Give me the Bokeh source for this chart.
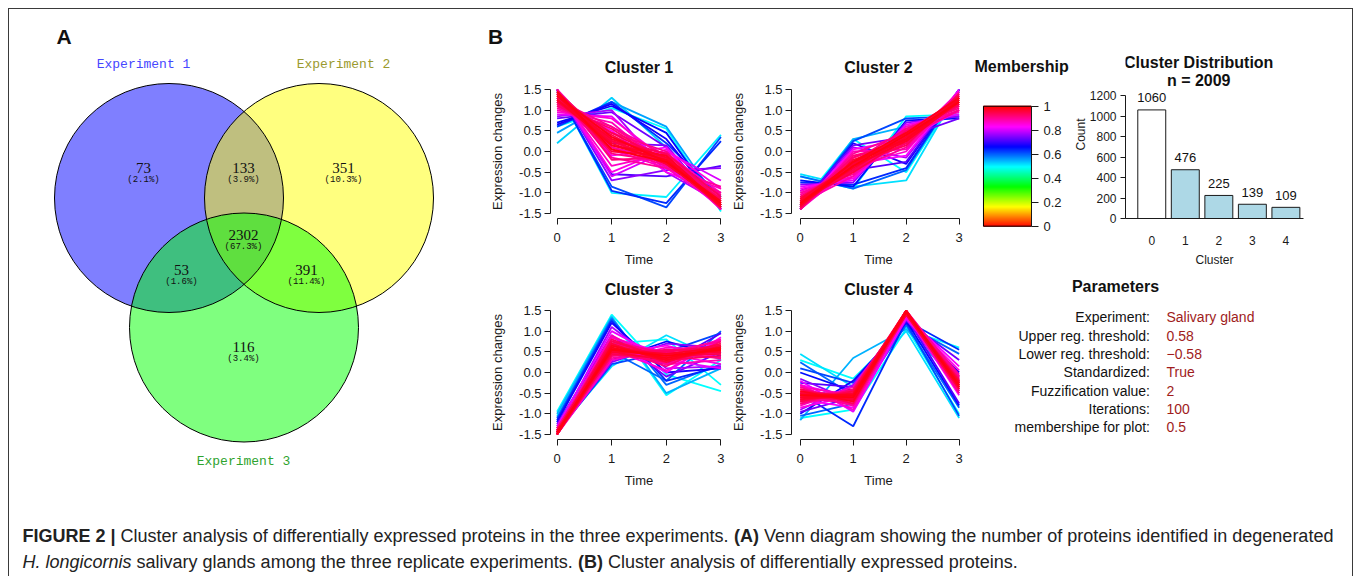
import colorsys
from bokeh.plotting import figure
from bokeh.layouts import row, column
from bokeh.models import Range1d, FixedTicker, Spacer, PrintfTickFormatter
from bokeh.core.properties import value
from bokeh.embed import file_html
from bokeh.resources import INLINE

# ---------------- data ----------------
venn_labels = ["Experiment 1", "Experiment 2", "Experiment 3"]
venn_counts = [73, 133, 351, 2302, 53, 391, 116]
venn_percents = ["(2.1%)", "(3.9%)", "(10.3%)", "(67.3%)", "(1.6%)", "(11.4%)", "(3.4%)"]

time_points = [0, 1, 2, 3]
expr_ticks = [-1.5, -1.0, -0.5, 0.0, 0.5, 1.0, 1.5]
cluster_titles = ["Cluster 1", "Cluster 2", "Cluster 3", "Cluster 4"]

c1_profiles = [
    [1.45, 0.05, -0.25, -1.25], [1.35, 0.15, -0.2, -1.3], [1.25, 0.3, -0.15, -1.35], [1.4, 0.0, -0.1, -1.3],
    [1.2, 0.4, -0.3, -1.25], [1.3, 0.25, -0.05, -1.1], [1.1, 0.55, -0.3, -1.2], [1.5, -0.2, -0.15, -1.15],
    [1.15, 0.45, 0.0, -1.35], [1.3, 0.1, -0.35, -1.0], [1.05, 0.6, -0.1, -1.4], [1.4, -0.15, -0.4, -0.85],
    [1.35, 0.35, -0.25, -1.2], [1.25, 0.15, -0.1, -1.3], [1.4, 0.2, -0.3, -1.3], [1.2, 0.25, -0.2, -1.25],
    [1.3, 0.45, -0.2, -1.35], [1.45, 0.25, -0.3, -1.15], [1.15, 0.3, -0.05, -1.2], [1.35, -0.05, -0.25, -1.05],
    [1.25, 0.6, -0.25, -1.3], [1.1, 0.35, -0.15, -1.15], [1.5, 0.1, -0.2, -1.35], [1.2, 0.05, -0.4, -0.9],
    [1.0, 0.7, -0.4, -1.3], [1.45, -0.35, -0.05, -1.0], [0.95, 0.8, -0.2, -1.4], [1.5, -0.5, 0.05, -0.9],
    [1.2, 0.5, -0.5, -1.0], [1.4, -0.1, 0.1, -1.4], [0.9, 0.85, -0.35, -1.35], [1.5, -0.6, 0.0, -0.7],
    [0.85, 1.0, -0.5, -1.25], [1.5, -0.7, -0.45, -0.4], [1.3, 0.2, 0.15, -1.4], [0.8, 0.95, 0.1, -1.4],
    [1.5, -0.55, -0.6, -0.35], [0.65, 1.15, 0.3, -1.35], [0.7, 1.1, 0.45, -1.4], [1.5, -0.95, -1.25, 0.25],
    [0.6, 1.2, 0.2, -1.1], [1.45, -0.85, -1.35, 0.35], [0.45, 1.2, 0.6, -1.3], [0.2, 1.3, 0.1, -1.3],
    [1.5, -1.0, -1.1, 0.4], [0.6, 1.05, 0.55, -1.45],
]
c1_membership = [0.99, 0.98, 0.97, 0.96, 0.95, 0.94, 0.93, 0.92, 0.91, 0.9, 0.9, 0.9,
                 0.985, 0.975, 0.965, 0.955, 0.945, 0.935, 0.925, 0.915, 0.905, 0.895, 0.885, 0.875,
                 0.88, 0.87, 0.86, 0.85, 0.84, 0.83, 0.82, 0.81, 0.78, 0.76, 0.75, 0.74,
                 0.72, 0.68, 0.66, 0.64, 0.63, 0.62, 0.56, 0.53, 0.51, 0.5]

c2_profiles = [
    [-1.25, -0.35, 0.4, 1.2], [-1.3, -0.25, 0.3, 1.25], [-1.2, -0.4, 0.35, 1.25], [-1.35, -0.2, 0.25, 1.3],
    [-1.15, -0.45, 0.45, 1.15], [-1.3, -0.3, 0.15, 1.4], [-1.1, -0.5, 0.5, 1.1], [-1.4, -0.1, 0.2, 1.3],
    [-1.2, -0.15, 0.35, 1.0], [-1.0, -0.55, 0.55, 1.0], [-1.25, -0.45, 0.1, 1.4], [-1.35, -0.05, 0.45, 1.1],
    [-1.25, -0.25, 0.45, 1.3], [-1.3, -0.35, 0.25, 1.2], [-1.15, -0.3, 0.4, 1.2], [-1.2, -0.5, 0.3, 1.35],
    [-1.35, -0.3, 0.4, 1.15], [-1.1, -0.35, 0.2, 1.3], [-1.3, -0.15, 0.3, 1.2], [-1.2, -0.25, 0.55, 1.05],
    [-1.4, -0.25, 0.35, 1.35], [-1.05, -0.4, 0.3, 1.15], [-1.25, -0.6, 0.5, 1.25], [-1.35, -0.45, 0.2, 1.45],
    [-1.4, 0.0, 0.05, 1.35], [-0.95, -0.6, 0.6, 0.95], [-1.4, -0.35, 0.0, 1.45], [-0.9, -0.65, 0.45, 1.1],
    [-1.35, 0.05, 0.3, 1.0], [-1.1, -0.3, -0.1, 1.5], [-0.85, -0.7, 0.65, 0.9], [-1.4, 0.1, -0.15, 1.45],
    [-0.8, -0.75, 0.7, 0.85], [-1.3, 0.15, 0.35, 0.8], [-0.95, -0.45, -0.25, 1.5], [-1.4, 0.2, -0.3, 1.5],
    [-0.7, -0.85, 0.75, 0.8], [-0.75, -0.8, -0.4, 1.5], [-1.35, 0.25, 0.8, 0.85], [-0.6, -0.9, -0.45, 1.5],
    [-1.4, 0.3, 0.6, 0.85], [-0.55, -0.85, -0.7, 1.5], [-0.6, -0.9, 0.85, 0.9], [-1.3, 0.3, -0.5, 1.45],
]
c2_membership = [0.99, 0.98, 0.97, 0.96, 0.95, 0.94, 0.93, 0.92, 0.91, 0.9, 0.9, 0.9,
                 0.985, 0.975, 0.965, 0.955, 0.945, 0.935, 0.925, 0.915, 0.905, 0.895, 0.885, 0.875,
                 0.88, 0.87, 0.86, 0.85, 0.84, 0.83, 0.82, 0.78, 0.76, 0.74, 0.72, 0.68,
                 0.66, 0.64, 0.62, 0.6, 0.55, 0.52, 0.5, 0.5]

c3_profiles = [
    [-1.45, 0.55, 0.4, 0.55], [-1.5, 0.65, 0.3, 0.6], [-1.45, 0.5, 0.45, 0.5], [-1.4, 0.7, 0.25, 0.65],
    [-1.5, 0.45, 0.35, 0.7], [-1.45, 0.8, 0.3, 0.4], [-1.4, 0.4, 0.55, 0.5], [-1.5, 0.6, 0.15, 0.75],
    [-1.35, 0.75, 0.45, 0.35], [-1.45, 0.35, 0.5, 0.75], [-1.5, 0.7, 0.4, 0.45], [-1.4, 0.6, 0.2, 0.6],
    [-1.45, 0.6, 0.35, 0.6], [-1.5, 0.55, 0.45, 0.6], [-1.4, 0.5, 0.3, 0.55], [-1.45, 0.65, 0.4, 0.45],
    [-1.5, 0.75, 0.35, 0.55], [-1.4, 0.55, 0.5, 0.65], [-1.45, 0.45, 0.25, 0.65], [-1.5, 0.5, 0.5, 0.65],
    [-1.35, 0.65, 0.35, 0.5], [-1.45, 0.7, 0.5, 0.35], [-1.5, 0.4, 0.4, 0.8], [-1.4, 0.85, 0.35, 0.5],
    [-1.4, 0.9, 0.2, 0.3], [-1.5, 0.3, 0.6, 0.55], [-1.35, 0.55, 0.05, 0.8], [-1.45, 0.85, 0.45, 0.2],
    [-1.4, 0.45, 0.65, 0.35], [-1.5, 0.7, 0.0, 0.85], [-1.3, 1.0, 0.3, 0.1], [-1.35, 1.1, 0.1, 0.15],
    [-1.45, 0.25, 0.7, 0.6], [-1.25, 0.9, -0.1, 0.5], [-1.5, 0.5, 0.2, 0.95], [-1.2, 1.2, 0.0, 0.1],
    [-1.4, 0.3, 0.75, 0.4], [-1.15, 1.25, -0.2, 0.15], [-1.45, 0.2, 0.5, 0.95], [-1.1, 1.3, -0.3, 0.2],
    [-1.3, 0.5, -0.2, 1.0], [-1.0, 1.35, -0.5, 0.1], [-1.4, 0.15, 0.9, 0.3], [-0.95, 1.4, -0.05, -0.45],
    [-1.05, 1.3, -0.55, 0.3], [-1.2, 0.7, 0.8, -0.3],
]
c3_membership = [0.99, 0.98, 0.97, 0.96, 0.95, 0.94, 0.93, 0.92, 0.91, 0.9, 0.9, 0.9,
                 0.985, 0.975, 0.965, 0.955, 0.945, 0.935, 0.925, 0.915, 0.905, 0.895, 0.885, 0.875,
                 0.88, 0.87, 0.86, 0.85, 0.84, 0.83, 0.82, 0.78, 0.76, 0.74, 0.72, 0.68,
                 0.66, 0.64, 0.62, 0.6, 0.6, 0.55, 0.52, 0.5, 0.5, 0.5]

c4_profiles = [
    [-0.55, -0.6, 1.45, -0.3], [-0.45, -0.7, 1.5, -0.35], [-0.65, -0.5, 1.45, -0.25], [-0.5, -0.55, 1.4, -0.4],
    [-0.7, -0.45, 1.5, -0.35], [-0.4, -0.75, 1.45, -0.3], [-0.6, -0.65, 1.4, -0.15], [-0.75, -0.4, 1.45, -0.3],
    [-0.5, -0.5, 1.5, -0.5], [-0.35, -0.8, 1.4, -0.25], [-0.6, -0.75, 1.5, -0.1], [-0.7, -0.6, 1.45, -0.05],
    [-0.55, -0.55, 1.5, -0.35], [-0.6, -0.6, 1.45, -0.25], [-0.5, -0.65, 1.45, -0.3], [-0.65, -0.55, 1.4, -0.2],
    [-0.45, -0.6, 1.45, -0.4], [-0.55, -0.7, 1.4, -0.2], [-0.7, -0.5, 1.45, -0.2], [-0.4, -0.65, 1.5, -0.45],
    [-0.6, -0.45, 1.45, -0.4], [-0.5, -0.8, 1.4, -0.1], [-0.75, -0.55, 1.5, -0.2], [-0.35, -0.55, 1.4, -0.5],
    [-0.8, -0.35, 1.4, -0.25], [-0.3, -0.9, 1.45, -0.25], [-0.55, -0.45, 1.35, -0.35], [-0.85, -0.55, 1.35, 0.05],
    [-0.3, -0.6, 1.4, -0.55], [-0.65, -0.85, 1.35, 0.15], [-0.2, -0.95, 1.3, -0.15], [-0.9, -0.3, 1.3, -0.1],
    [-0.15, -0.7, 1.3, -0.45], [-0.95, -0.6, 1.25, 0.3], [-0.25, -0.35, 1.35, -0.75], [-1.0, -0.2, 1.2, 0.0],
    [0.0, -0.45, 1.25, -0.8], [-0.5, -1.3, 1.25, 0.55], [0.1, -0.25, 1.2, -1.05], [-1.05, -0.75, 1.15, 0.45],
    [0.25, -0.55, 1.15, -0.85], [-1.15, 0.35, 1.05, -0.25], [0.45, -0.35, 1.0, -1.1], [0.3, -0.15, 1.1, -1.0],
    [-1.1, -0.9, 1.05, 0.6],
]
c4_membership = [0.99, 0.98, 0.97, 0.96, 0.95, 0.94, 0.93, 0.92, 0.91, 0.9, 0.9, 0.9,
                 0.985, 0.975, 0.965, 0.955, 0.945, 0.935, 0.925, 0.915, 0.905, 0.895, 0.885, 0.875,
                 0.88, 0.87, 0.86, 0.85, 0.84, 0.83, 0.82, 0.78, 0.76, 0.74, 0.72, 0.68,
                 0.66, 0.64, 0.62, 0.6, 0.6, 0.55, 0.52, 0.5, 0.5]

membership_ticks = [0, 0.2, 0.4, 0.6, 0.8, 1]
dist_labels = ["0", "1", "2", "3", "4"]
dist_counts = [1060, 476, 225, 139, 109]
count_ticks = [0, 200, 400, 600, 800, 1000, 1200]

param_names = ["Experiment:", "Upper reg. threshold:", "Lower reg. threshold:", "Standardized:",
               "Fuzzification value:", "Iterations:", "membershipe for plot:"]
param_values = ["Salivary gland", "0.58", "\u22120.58", "True", "2", "100", "0.5"]

caption_line1 = [("FIGURE 2 |", "bold"),
                 ("Cluster analysis of differentially expressed proteins in the three experiments.", "normal"),
                 ("(A)", "bold"),
                 ("Venn diagram showing the number of proteins identified in degenerated", "normal")]
caption_line2 = [("H. longicornis", "italic"),
                 ("salivary glands among the three replicate experiments.", "normal"),
                 ("(B)", "bold"),
                 ("Cluster analysis of differentially expressed proteins.", "normal")]

# ---------------- styling ----------------
FONT = "Liberation Sans"
INK = "#1a1a1a"


def member_color(m):
    r, g, b = colorsys.hsv_to_rgb(m % 1.0, 1.0, 1.0)
    return "#%02x%02x%02x" % (int(round(r * 255)), int(round(g * 255)), int(round(b * 255)))


def canvas(w, h, xr, yr):
    p = figure(width=w, height=h, x_range=Range1d(*xr), y_range=Range1d(*yr), min_border=0,
               toolbar_location=None, output_backend="svg", x_axis_location=None, y_axis_location=None)
    p.grid.visible = False
    p.outline_line_color = None
    p.frame_align = False
    return p


def style_axis(ax, size="13px"):
    ax.axis_line_color = INK
    ax.major_tick_line_color = INK
    ax.minor_tick_line_color = None
    ax.major_tick_in = 0
    ax.major_label_text_font = FONT
    ax.major_label_text_font_size = size
    ax.major_label_text_color = INK
    ax.axis_label_text_font = FONT
    ax.axis_label_text_font_size = size
    ax.axis_label_text_font_style = "normal"
    ax.axis_label_text_color = INK


# ---------------- panel A: Venn ----------------
pv = canvas(471, 488, (9, 480), (497, 9))
venn_cx = [168.5, 318.5, 243.5]
venn_cy = [197.5, 197.5, 327.0]
venn_r = 114.5
venn_fill = ["#0000FF", "#FFFF00", "#00FF00"]
for cx, cy, fc in zip(venn_cx, venn_cy, venn_fill):
    pv.circle(x=[cx], y=[cy], radius=venn_r, fill_color=fc, fill_alpha=0.5, line_color=None)
pv.circle(x=venn_cx, y=venn_cy, radius=venn_r, fill_color=None, line_color="black", line_width=1)

region_x = [143, 243, 343, 243, 181, 306, 243]
region_y = [167, 167, 167, 234, 269, 269, 346]
pv.text(x=region_x, y=region_y, text=[str(c) for c in venn_counts], text_font=value("Liberation Serif"),
        text_font_size="15px", text_align="center", text_baseline="middle", text_color="#111111")
pv.text(x=region_x, y=[y + 12 for y in region_y], text=venn_percents, text_font=value("Liberation Mono"),
        text_font_size="9px", text_align="center", text_baseline="middle", text_color="#111111")
pv.text(x=[143, 343, 243], y=[64, 64, 461], text=venn_labels, text_font=value("Liberation Mono"),
        text_font_size="13px", text_align="center", text_baseline="middle",
        text_color=["#4646ff", "#9a9a2e", "#2ea32e"])
pv.text(x=[63.5], y=[36], text=["A"], text_font=value(FONT), text_font_style="bold", text_font_size="21px",
        text_align="center", text_baseline="middle", text_color="#111111")

# ---------------- panel B header ----------------
ph = canvas(872, 38, (480, 1352), (47, 9))
ph.text(x=[495], y=[36], text=["B"], text_font=value(FONT), text_font_style="bold", text_font_size="21px",
        text_align="center", text_baseline="middle", text_color="#111111")


# ---------------- cluster panels ----------------
def cluster_fig(title, profiles, memb, width, height, bl, br, bt, bb, standoff, x_start):
    p = figure(width=width, height=height, x_range=Range1d(x_start, 3.12), y_range=Range1d(-1.62, 1.62),
               min_border_left=bl, min_border_right=br, min_border_top=bt, min_border_bottom=bb,
               toolbar_location=None, output_backend="svg", title=title)
    p.frame_align = False
    p.grid.visible = False
    p.outline_line_color = None
    order = sorted(range(len(memb)), key=lambda i: memb[i])
    p.multi_line(xs=[time_points for _ in order], ys=[profiles[i] for i in order],
                 line_color=[member_color(memb[i]) for i in order], line_width=1.8)
    p.title.text_font = FONT
    p.title.text_font_size = "16px"
    p.title.text_font_style = "bold"
    p.title.text_color = "#111111"
    p.title.align = "center"
    p.title.standoff = standoff
    for ax in (p.xaxis[0], p.yaxis[0]):
        style_axis(ax)
        ax.major_tick_out = 6
    p.xaxis.ticker = FixedTicker(ticks=time_points)
    p.xaxis.bounds = (0, 3)
    p.xaxis.major_label_standoff = 8
    p.xaxis.axis_label = "Time"
    p.xaxis.axis_label_standoff = 7
    p.yaxis.ticker = FixedTicker(ticks=expr_ticks)
    p.yaxis.formatter = PrintfTickFormatter(format="%.1f")
    p.yaxis.bounds = (-1.5, 1.5)
    p.yaxis.major_label_standoff = 3
    p.yaxis.axis_label = "Expression changes"
    p.yaxis.axis_label_standoff = 11
    return p


c1 = cluster_fig(cluster_titles[0], c1_profiles, c1_membership, 248, 222, 70, 1, 37, 51, 17, -0.12)
c2 = cluster_fig(cluster_titles[1], c2_profiles, c2_membership, 237, 222, 58, 0, 37, 51, 17, -0.165)
c3 = cluster_fig(cluster_titles[2], c3_profiles, c3_membership, 248, 228, 70, 1, 36, 58, 16, -0.12)
c4 = cluster_fig(cluster_titles[3], c4_profiles, c4_membership, 237, 228, 58, 0, 36, 58, 16, -0.165)

# ---------------- membership colour bar ----------------
pc = figure(width=105, height=222, x_range=Range1d(-0.02, 1.0), y_range=Range1d(-0.011, 1.206),
            min_border_left=17, min_border_right=39, min_border_top=34, min_border_bottom=42,
            toolbar_location=None, output_backend="svg", x_axis_location=None, y_axis_location="right",
            title="Membership")
pc.frame_align = False
pc.grid.visible = False
pc.outline_line_color = None
n_cells = 120
cell_lo = [i / n_cells for i in range(n_cells)]
cell_hi = [(i + 1) / n_cells for i in range(n_cells)]
cell_colors = [member_color((i + 0.5) / n_cells) for i in range(n_cells)]
pc.quad(left=0, right=1, bottom=cell_lo, top=cell_hi, fill_color=cell_colors, line_color=cell_colors,
        line_width=1)
pc.quad(left=[0], right=[1], bottom=[0], top=[1], fill_color=None, line_color="black", line_width=1)
style_axis(pc.yaxis[0])
pc.yaxis.ticker = FixedTicker(ticks=membership_ticks)
pc.yaxis.bounds = (0, 1)
pc.yaxis.major_tick_out = 7
pc.yaxis.major_label_standoff = 5
pc.yaxis.major_label_overrides = {0: "0", 1: "1"}
pc.title.text_font = FONT
pc.title.text_font_size = "16px"
pc.title.text_font_style = "bold"
pc.title.text_color = "#111111"
pc.title.align = "left"
pc.title.offset = -8
pc.title.standoff = 14

# ---------------- cluster distribution bar chart ----------------
bar_centers = [0.7 + 1.2 * i for i in range(len(dist_counts))]
pb = figure(width=282, height=222, x_range=Range1d(-0.24, 6.13), y_range=Range1d(0, 1640),
            min_border_left=53, min_border_right=49, min_border_top=3, min_border_bottom=51,
            toolbar_location=None, output_backend="svg")
pb.frame_align = False
pb.grid.visible = False
pb.outline_line_color = None
pb.vbar(x=bar_centers, width=1.0, bottom=0, top=dist_counts,
        fill_color=["white"] + ["#add8e6"] * (len(dist_counts) - 1), line_color=INK, line_width=1)
pb.text(x=bar_centers, y=dist_counts, text=[str(c) for c in dist_counts], y_offset=-12,
        text_font=value(FONT), text_font_size="13px", text_align="center", text_baseline="middle",
        text_color="#111111")
pb.text(x=[2.38], y=[1525], text=["Cluster Distribution"], text_font=value(FONT), text_font_style="bold",
        text_font_size="16px", text_align="center", text_baseline="middle", text_color="#111111")
pb.text(x=[2.38], y=[1346], text=["n = %d" % sum(dist_counts)], text_font=value(FONT), text_font_style="bold",
        text_font_size="16px", text_align="center", text_baseline="middle", text_color="#111111")
style_axis(pb.xaxis[0], "12px")
style_axis(pb.yaxis[0], "12px")
pb.xaxis.ticker = FixedTicker(ticks=bar_centers)
pb.xaxis.major_label_overrides = {c: lab for c, lab in zip(bar_centers, dist_labels)}
pb.xaxis.major_tick_out = 0
pb.xaxis.major_tick_line_color = None
pb.xaxis.major_label_standoff = 17
pb.xaxis.axis_label = "Cluster"
pb.xaxis.axis_label_standoff = 5
pb.yaxis.ticker = FixedTicker(ticks=count_ticks)
pb.yaxis.bounds = (0, 1200)
pb.yaxis.major_tick_out = 5
pb.yaxis.major_label_standoff = 4
pb.yaxis.axis_label = "Count"
pb.yaxis.axis_label_standoff = -1

# ---------------- parameters ----------------
pp = canvas(387, 228, (965, 1352), (497, 269))
pp.text(x=[1115], y=[286], text=["Parameters"], text_font=value(FONT), text_font_style="bold",
        text_font_size="16px", text_align="center", text_baseline="middle", text_color="#111111")
row_y = [316.7 + 18.33 * i for i in range(len(param_names))]
pp.text(x=[1149.5] * len(param_names), y=row_y, text=param_names, text_font=value(FONT),
        text_font_size="14px", text_align="right", text_baseline="middle", text_color="#111111")
pp.text(x=[1166] * len(param_values), y=row_y, text=param_values, text_font=value(FONT),
        text_font_size="14px", text_align="left", text_baseline="middle", text_color="#a01c1c")

# ---------------- caption ----------------
HELV = {' ': 278, '(': 333, ')': 333, '.': 278, '|': 260, '2': 556, ',': 278,
        'A': 667, 'B': 667, 'C': 722, 'E': 667, 'F': 611, 'G': 778, 'H': 722, 'I': 278, 'R': 722,
        'U': 722, 'V': 667,
        'a': 556, 'b': 556, 'c': 500, 'd': 556, 'e': 556, 'f': 278, 'g': 556, 'h': 556, 'i': 222,
        'j': 222, 'k': 500, 'l': 222, 'm': 833, 'n': 556, 'o': 556, 'p': 556, 'q': 556, 'r': 333,
        's': 500, 't': 278, 'u': 556, 'v': 500, 'w': 722, 'x': 500, 'y': 500, 'z': 500}
HELV_BOLD = {' ': 278, '(': 333, ')': 333, '|': 280, '2': 556, 'A': 722, 'B': 722, 'E': 667, 'F': 611,
             'G': 778, 'I': 278, 'R': 722, 'U': 722}


def em_width(s, style):
    table = HELV_BOLD if style == "bold" else HELV
    return sum(table.get(ch, HELV.get(ch, 556)) for ch in s) / 1000.0


def line_em(segments):
    return sum(em_width(s, st) for s, st in segments) + 0.278 * (len(segments) - 1)


cap_px = 1312.0 / line_em(caption_line1)
pcap = canvas(1343, 79, (9, 1352), (576, 497))
for segments, ly in ((caption_line1, 535), (caption_line2, 561)):
    x = 22.0
    for s, st in segments:
        pcap.text(x=[x], y=[ly], text=[s], text_font=value(FONT), text_font_style=st,
                  text_font_size="%.2fpx" % cap_px, text_align="left", text_baseline="middle",
                  text_color="#222222")
        x += (em_width(s, st) + 0.278) * cap_px

# ---------------- layout ----------------
clusters = column(row(c1, c2), row(c3, c4))
right = column(row(pc, pb), pp)
panel_b = column(ph, row(clusters, right))
top = row(pv, panel_b)
framed = column(top, pcap, styles={"border-top": "1px solid #3a3a3a", "border-left": "1px solid #3a3a3a",
                                   "border-right": "1px solid #3a3a3a"})
root = column(Spacer(width=8, height=8), row(Spacer(width=8, height=8), framed))

open("out.html", "w").write(file_html(root, INLINE))
